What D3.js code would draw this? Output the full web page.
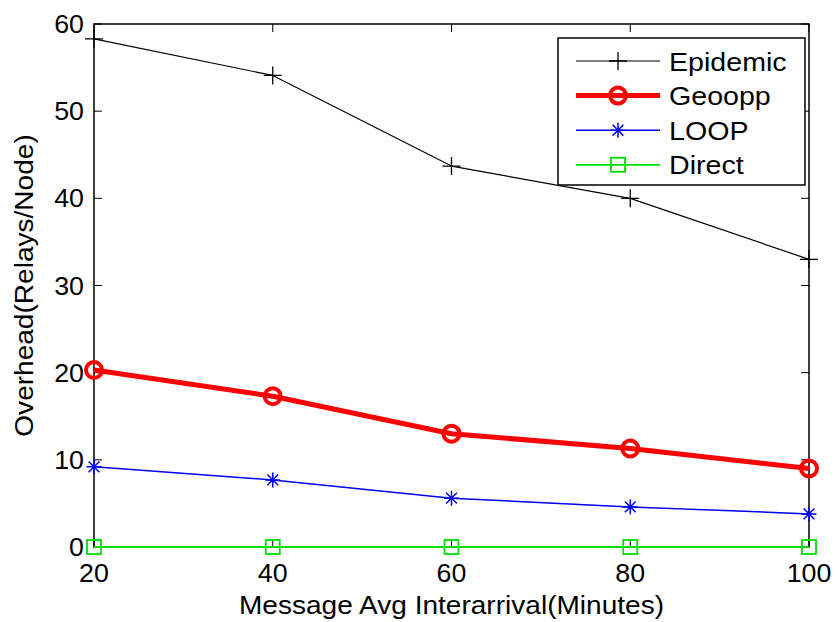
<!DOCTYPE html>
<html>
<head>
<meta charset="utf-8">
<script src="https://cdn.jsdelivr.net/npm/d3@7.9.0/dist/d3.min.js"></script>
<style>
  body { margin: 0; background: #fff; }
  text { font-family: "Liberation Sans", Arial, sans-serif; fill: #000; }
</style>
</head>
<body>
<svg id="chart" width="838" height="622"></svg>
<script>
// data
const interarrival = [20, 40, 60, 80, 100];
const epidemic = [58.3, 54.1, 43.7, 40.0, 33.0];
const geoopp = [20.3, 17.3, 13.0, 11.3, 9.0];
const loop = [9.2, 7.7, 5.6, 4.6, 3.8];
const direct = [0, 0, 0, 0, 0];
const xTicks = [20, 40, 60, 80, 100];
const yTicks = [0, 10, 20, 30, 40, 50, 60];

const series = [
  { name: 'Epidemic', values: epidemic, color: '#000', width: 1.2, marker: 'plus' },
  { name: 'Geoopp', values: geoopp, color: '#ff0000', width: 5, marker: 'circle' },
  { name: 'LOOP', values: loop, color: '#0000ff', width: 1.5, marker: 'star' },
  { name: 'Direct', values: direct, color: '#00e000', width: 1.8, marker: 'square' }
];

const margin = { left: 94, right: 29, top: 24, bottom: 75 };
const W = 838, H = 622;
const svg = d3.select('#chart');

let x = d3.scaleLinear().domain([20, 100]).range([margin.left, W - margin.right]);
let y = d3.scaleLinear().domain([0, 60]).range([H - margin.bottom, margin.top]);

const x0 = x.range()[0], x1 = x.range()[1];
const y0 = y.range()[0], y1 = y.range()[1];

// the reference type is a little wider than Liberation Sans, stretch it
function stretch(sel, k = 1.1) {
  sel.each(function () {
    const len = this.getComputedTextLength();
    d3.select(this).attr('textLength', len * k).attr('lengthAdjust', 'spacingAndGlyphs');
  });
  return sel;
}

// frame (data goes on top of it)
svg.append('rect').attr('x', x0).attr('y', y1).attr('width', x1 - x0).attr('height', y0 - y1)
  .attr('fill', 'none').attr('stroke', '#000').attr('stroke-width', 1.5);

// ticks (inward, on all four sides)
const tickLen = 8;
const g = svg.append('g');
xTicks.forEach(t => {
  g.append('line').attr('x1', x(t)).attr('x2', x(t)).attr('y1', y0).attr('y2', y0 - tickLen)
    .attr('stroke', '#000').attr('stroke-width', 1);
  g.append('line').attr('x1', x(t)).attr('x2', x(t)).attr('y1', y1).attr('y2', y1 + tickLen)
    .attr('stroke', '#000').attr('stroke-width', 1);
  stretch(g.append('text').attr('x', x(t)).attr('y', y0 + 35).attr('text-anchor', 'middle')
    .attr('font-size', 25.5).text(t), 1.05);
});
yTicks.forEach(t => {
  g.append('line').attr('x1', x0).attr('x2', x0 + tickLen).attr('y1', y(t)).attr('y2', y(t))
    .attr('stroke', '#000').attr('stroke-width', 1);
  g.append('line').attr('x1', x1).attr('x2', x1 - tickLen).attr('y1', y(t)).attr('y2', y(t))
    .attr('stroke', '#000').attr('stroke-width', 1);
  stretch(g.append('text').attr('x', x0 - 10).attr('y', y(t) + 9).attr('text-anchor', 'end')
    .attr('font-size', 25.5).text(t), 1.05);
});

function drawMarker(sel, type, cx, cy, color) {
  if (type === 'plus') {
    sel.append('path').attr('d', `M${cx - 9},${cy}H${cx + 9}M${cx},${cy - 9}V${cy + 9}`)
      .attr('stroke', color).attr('stroke-width', 1.3).attr('fill', 'none');
  } else if (type === 'circle') {
    sel.append('circle').attr('cx', cx).attr('cy', cy).attr('r', 8)
      .attr('stroke', color).attr('stroke-width', 4).attr('fill', 'none');
  } else if (type === 'star') {
    const r = 7.5, d = r * 0.72;
    sel.append('path')
      .attr('d', `M${cx - r},${cy}H${cx + r}M${cx},${cy - r}V${cy + r}M${cx - d},${cy - d}L${cx + d},${cy + d}M${cx - d},${cy + d}L${cx + d},${cy - d}`)
      .attr('stroke', color).attr('stroke-width', 1.5).attr('fill', 'none');
  } else if (type === 'square') {
    sel.append('rect').attr('x', cx - 7).attr('y', cy - 7).attr('width', 14).attr('height', 14)
      .attr('stroke', color).attr('stroke-width', 1.8).attr('fill', 'none');
  }
}

const line = d3.line().x((d, i) => x(interarrival[i])).y(d => y(d));

// draw in reverse so Epidemic is on top
series.slice().reverse().forEach(s => {
  const sg = svg.append('g');
  sg.append('path').datum(s.values).attr('d', line)
    .attr('fill', 'none').attr('stroke', s.color).attr('stroke-width', s.width)
    .attr('stroke-linejoin', 'round');
  s.values.forEach((v, i) => drawMarker(sg, s.marker, x(interarrival[i]), y(v), s.color));
});

// legend
const lg = svg.append('g');
lg.append('rect').attr('x', 558).attr('y', 38).attr('width', 247).attr('height', 147)
  .attr('fill', '#fff').attr('stroke', '#000').attr('stroke-width', 1.5);
series.forEach((s, i) => {
  const ly = 61 + i * 34.6;
  lg.append('line').attr('x1', 576).attr('x2', 660).attr('y1', ly).attr('y2', ly)
    .attr('stroke', s.color).attr('stroke-width', s.width);
  drawMarker(lg, s.marker, 618, ly, s.color);
  stretch(lg.append('text').attr('x', 669).attr('y', ly + 9.5).attr('font-size', 26).text(s.name));
});

// axis labels
stretch(svg.append('text').attr('x', (x0 + x1) / 2).attr('y', 614).attr('text-anchor', 'middle')
  .attr('font-size', 25.5).text('Message Avg Interarrival(Minutes)'));
stretch(svg.append('text').attr('transform', `translate(33,${(y0 + y1) / 2}) rotate(-90)`)
  .attr('text-anchor', 'middle').attr('font-size', 25.5).text('Overhead(Relays/Node)'));
</script>
</body>
</html>
